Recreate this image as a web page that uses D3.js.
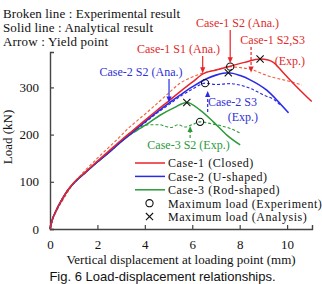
<!DOCTYPE html>
<html><head><meta charset="utf-8">
<script src="https://cdn.jsdelivr.net/npm/d3@7/dist/d3.min.js"></script>
<style>body{margin:0;background:#fff}svg{display:block}</style>
</head><body><svg id="c" width="322" height="284"></svg>
<script>
// ---- data ----
const xTicks = [0, 2, 4, 6, 8, 10];
const yTicks = [0, 100, 200, 300];
const case1AnaX = [0,0.1,0.25,0.5,0.75,1,1.5,2,2.5,3,3.5,4,4.5,5,5.49,6,6.47,7,7.6,8.2,8.86,9.2,9.42,9.84,10.41,11.04];
const case1AnaY = [0,20,38,62,82,98,121,144,166,188,209,230,251,271,291,311,329,337,345,353,360,358,353,331,301,270];
const case2AnaX = [0,0.1,0.25,0.5,0.75,1,1.5,2,2.5,3,3.5,4,4.5,5,5.5,6,6.58,7,7.52,8.02,8.44,9.14,9.7,10.06];
const case2AnaY = [0,20,38,62,82,97,120,142,163,185,206,227,247,266,284,301,318,326,331,325,316,294,266,246];
const case3AnaX = [0,0.1,0.25,0.5,0.75,1,1.5,2,2.5,3,3.5,3.8,4.2,4.64,5.2,5.77,6.33,6.89,7.46,8.02];
const case3AnaY = [0,20,38,62,82,97,120,142,163,185,204,213,226,241,256,268,252,227,199,178];
const case1ExpX = [0,0.1,0.3,0.6,1,1.5,2,2.5,3,3.23,3.5,4,4.5,5,5.49,6,6.5,7,7.6,8,8.5,9,9.28,9.84,10.3,10.62];
const case1ExpY = [0,18,40,66,97,125,150,174,198,210,222,243,265,288,309,322,331,337,344,342,338,328,323,316,310,305];
const case2ExpX = [0,0.1,0.25,0.5,0.75,1,1.5,2,2.5,3,3.5,4,4.5,5,5.5,6,6.54,7,7.6,8,8.44,9,9.56,9.7];
const case2ExpY = [0,20,38,62,82,97,120,142,163,185,205,225,245,263,281,296,309,306,308,305,298,284,270,263];
const case3ExpX = [0,0.1,0.25,0.5,0.75,1,1.5,2,2.5,3,3.4,3.8,4.2,4.6,4.9,5.1,5.4,5.7,6,6.33,6.8,7.2,7.6,8.02];
const case3ExpY = [0,20,38,62,82,97,120,142,163,185,204,216,221,221,217,215,221,216,221,227,223,219,213,203];
const expMaxX = [7.6, 6.54, 6.33];
const expMaxY = [344, 309, 227];
const anaMaxX = [8.86, 7.52, 5.77];
const anaMaxY = [360, 331, 268];
const legendLabels = ["Case-1 (Closed)", "Case-2 (U-shaped)", "Case-3 (Rod-shaped)", "Maximum load (Experiment)", "Maximum load (Analysis)"];
const headerLines = ["Broken line : Experimental result", "Solid line : Analytical result", "Arrow : Yield point"];

// ---- layout ----
const svg = d3.select("#c");
const x = d3.scaleLinear().domain([0, 11.05]).range([50, 312]);
const y = d3.scaleLinear().domain([0, 375]).range([229, 52]);
const RED = "#e8242a", ORANGE = "#f0603a", BLUE = "#2a2ae6", GREEN = "#2c9a3a";
const TRED = "#e02a2a", TBLUE = "#3030d8", TGREEN = "#2a9a3a";
const serif = "'Liberation Serif','Times New Roman',serif";

// axes
const axisCol = "#444";
const gx = svg.append("g").attr("transform", "translate(0,229)")
  .call(d3.axisBottom(x).tickValues(xTicks).tickSize(-4).tickPadding(11).tickFormat(d3.format("d")));
const gy = svg.append("g").attr("transform", "translate(50,0)")
  .call(d3.axisLeft(y).tickValues(yTicks).tickSize(-4).tickPadding(11).tickFormat(d3.format("d")));
[gx, gy].forEach(g => {
  g.select(".domain").attr("stroke", axisCol).attr("stroke-width", 1.4);
  g.selectAll(".tick line").attr("stroke", axisCol).attr("stroke-width", 1.2);
  g.selectAll("text").attr("font-family", serif).attr("font-size", 13).attr("fill", "#111");
});

// curves
const line = d3.line().x(d => x(d[0])).y(d => y(d[1])).curve(d3.curveMonotoneX);
const zip = (a, b) => a.map((v, i) => [v, b[i]]);
const series = [
  {xs: case3ExpX, ys: case3ExpY, c: GREEN, dash: "3,2", w: 1.1},
  {xs: case2ExpX, ys: case2ExpY, c: BLUE, dash: "3,2", w: 1.1},
  {xs: case1ExpX, ys: case1ExpY, c: ORANGE, dash: "3,2", w: 1.1},
  {xs: case3AnaX, ys: case3AnaY, c: GREEN, dash: null, w: 1.5},
  {xs: case2AnaX, ys: case2AnaY, c: BLUE, dash: null, w: 1.6},
  {xs: case1AnaX, ys: case1AnaY, c: RED, dash: null, w: 1.5},
];
series.forEach(s => {
  svg.append("path").attr("d", line(zip(s.xs, s.ys))).attr("fill", "none")
    .attr("stroke", s.c).attr("stroke-width", s.w).attr("stroke-dasharray", s.dash);
});

// markers
function circleMark(g, cx, cy) {
  g.append("circle").attr("cx", cx).attr("cy", cy).attr("r", 3.6)
    .attr("fill", "none").attr("stroke", "#111").attr("stroke-width", 1.1);
}
function crossMark(g, cx, cy) {
  const s = 3.6;
  g.append("path").attr("d", `M${cx-s},${cy-s}L${cx+s},${cy+s}M${cx-s},${cy+s}L${cx+s},${cy-s}`)
    .attr("stroke", "#111").attr("stroke-width", 1.1);
}
expMaxX.forEach((v, i) => circleMark(svg, x(v), y(expMaxY[i])));
anaMaxX.forEach((v, i) => crossMark(svg, x(v), y(anaMaxY[i])));

// header text
const hdrW = [177, 150, 105];
headerLines.forEach((t, i) => svg.append("text").attr("x", 3).attr("y", 18 + i * 14)
  .attr("font-family", serif).attr("font-size", 13).attr("fill", "#111")
  .attr("textLength", hdrW[i]).attr("lengthAdjust", "spacing").text(t));

// annotations
function arrow(px, y0, y1, col, dashed) {
  const dir = y1 > y0 ? 1 : -1;
  svg.append("line").attr("x1", px).attr("x2", px).attr("y1", y0).attr("y2", y1 - dir * 5)
    .attr("stroke", col).attr("stroke-width", 1.2).attr("stroke-dasharray", dashed ? "3,2" : null);
  svg.append("path").attr("d", `M${px-2.6},${y1 - dir*6}L${px+2.6},${y1 - dir*6}L${px},${y1}Z`).attr("fill", col);
}
function label(t, px, py, col, anchor) {
  svg.append("text").attr("x", px).attr("y", py).attr("text-anchor", anchor || "middle")
    .attr("font-family", serif).attr("font-size", 12).attr("fill", col).text(t);
}
label("Case-1 S2 (Ana.)", 237.5, 27, TRED);
arrow(x(7.6), 30, y(344) - 3.5, RED, false);
label("Case-1 S1 (Ana.)", 178.5, 53, TRED);
arrow(x(6.44), 56, y(330), RED, false);
label("Case-1 S2,S3", 305, 43.5, TRED, "end");
label("(Exp.)", 305, 65, TRED, "end");
arrow(x(8.48), 47, y(338) + 3, RED, true);
label("Case-2 S2 (Ana.)", 141, 76, TBLUE);
arrow(x(5.02), 79, y(268), BLUE, false);
label("Case-2 S3", 257, 106, TBLUE, "end");
label("(Exp.)", 258, 120.5, TBLUE, "end");
arrow(x(6.65), 112, 91, BLUE, true);
label("Case-3 S2 (Exp.)", 188.5, 149, TGREEN);
arrow(x(5.91), 138, 126, GREEN, true);

// legend
const legCols = [RED, BLUE, GREEN];
legendLabels.forEach((t, i) => {
  const cy = 163 + i * 13.4;
  if (i < 3) svg.append("line").attr("x1", 135).attr("x2", 165).attr("y1", cy).attr("y2", cy)
    .attr("stroke", legCols[i]).attr("stroke-width", 1.5);
  else if (i === 3) circleMark(svg, 149.5, cy);
  else crossMark(svg, 149.5, cy);
  svg.append("text").attr("x", 168).attr("y", cy + 4.3).attr("font-family", serif)
    .attr("font-size", 12).attr("letter-spacing", 0.55).attr("fill", "#111").text(t);
});

// axis titles
svg.append("text").attr("x", 181).attr("y", 264).attr("text-anchor", "middle")
  .attr("font-family", serif).attr("font-size", 13).attr("fill", "#111")
  .text("Vertical displacement at loading point (mm)");
svg.append("text").attr("transform", "translate(12,137) rotate(-90)").attr("text-anchor", "middle")
  .attr("font-family", serif).attr("font-size", 13).attr("fill", "#111").text("Load (kN)");
svg.append("text").attr("x", 162.5).attr("y", 281).attr("text-anchor", "middle")
  .attr("font-family", "'Liberation Sans',Arial,sans-serif").attr("font-size", 13).attr("fill", "#111")
  .text("Fig. 6 Load-displacement relationships.");
</script></body></html>
